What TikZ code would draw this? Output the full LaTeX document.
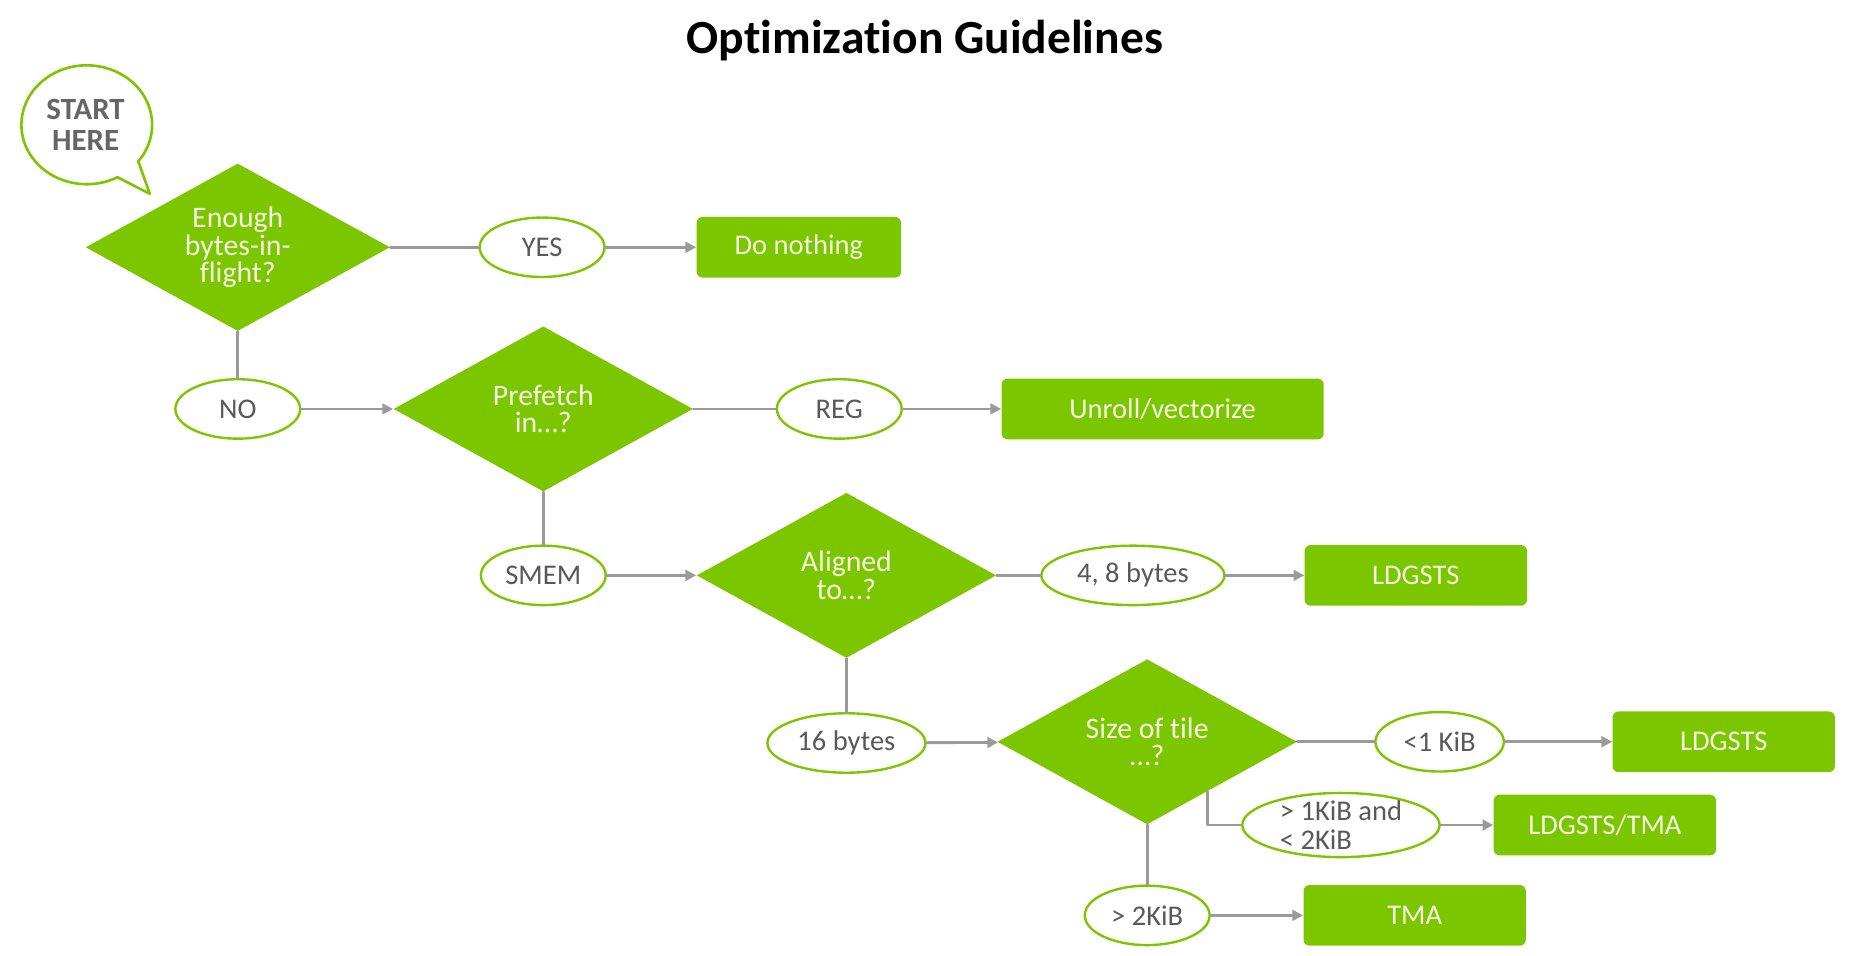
\documentclass[tikz,border=0pt]{standalone}
\usepackage{fontspec}
\setmainfont{Carlito}[Ligatures=CommonOff]
\usetikzlibrary{shapes.geometric,arrows.meta,calc}
\definecolor{nvgreen}{HTML}{7CC600}
\definecolor{linegray}{HTML}{9A9A9A}
\definecolor{labelgray}{HTML}{595959}
\definecolor{startgray}{HTML}{666666}
\definecolor{boxtext}{HTML}{F2F8E4}
\begin{document}
\begin{tikzpicture}[>={Triangle[length=4.5pt,width=4.5pt]},line cap=round,line join=round,x=0.5pt,y=-0.5pt,
		decision/.style={diamond,aspect=1.8,fill=nvgreen,text=boxtext,inner sep=0pt,minimum width=126pt,minimum height=69.5pt,align=center,font=\fontsize{12.5}{11.6}\selectfont},
		answer/.style={ellipse,draw=nvgreen,line width=1pt,fill=white,text=labelgray,inner sep=0pt,minimum width=52.5pt,minimum height=25pt,font=\fontsize{12}{12}\selectfont},
		action/.style={rectangle,rounded corners=2.5pt,fill=nvgreen,text=boxtext,minimum width=93.5pt,minimum height=25.5pt,font=\fontsize{12}{12}\selectfont},
		link/.style={draw=linegray,line width=1.2pt}]
	\useasboundingbox (0,0) rectangle (1568,804);
	\node[font=\fontsize{20}{24}\selectfont\bfseries] (title) at (778,34) {Optimization Guidelines};
	\draw[draw=nvgreen,line width=1.1pt,fill=white] (126,163) -- (98.8,149.1) arc[start angle=62,end angle=398,x radius=55,y radius=50] -- cycle;
	\node[font=\fontsize{13}{13.3}\selectfont\bfseries,text=startgray,align=center] (start) at (72,105) {START\\HERE};
	\node[decision,minimum width=128pt,minimum height=70.5pt] (enough) at (200,208) {Enough\\bytes-in-\\flight?};
	\node[answer] (yes) at (456,208) {YES};
	\node[action,minimum width=86pt] (nothing) at (672,208) {Do nothing};
	\node[answer] (no) at (200,344) {NO};
	\node[decision] (prefetch) at (457,344) {Prefetch\\in…?};
	\node[answer] (reg) at (706,344) {REG};
	\node[action,minimum width=135.5pt] (unroll) at (978,344) {Unroll/vectorize};
	\node[answer] (smem) at (457,484) {SMEM};
	\node[decision] (aligned) at (712,484) {Aligned\\to…?};
	\node[answer,minimum width=77pt] (small) at (953,484) {4, 8 bytes};
	\node[action] (ldgstsa) at (1191,484) {LDGSTS};
	\node[answer,minimum width=66.5pt] (large) at (712,625) {16 bytes};
	\node[decision] (tile) at (965,624) {Size of tile\\…?};
	\node[answer,minimum width=54pt] (below) at (1211,624) {<1 KiB};
	\node[action] (ldgstsb) at (1450,624) {LDGSTS};
	\node[answer,minimum width=83pt,minimum height=27pt,inner ysep=-5pt,align=left] (between) at (1128,694) {> 1KiB and\\< 2KiB};
	\node[action] (mixed) at (1350,694) {LDGSTS/TMA};
	\node[answer] (above) at (965,770) {> 2KiB};
	\node[action] (tma) at (1190,770) {TMA};
	\coordinate (split) at ($(tile.south)!0.4!(tile.east)$);
	\draw[link] (enough) -- (yes);
	\draw[link,->] (yes) -- (nothing);
	\draw[link] (enough) -- (no);
	\draw[link,->] (no) -- (prefetch);
	\draw[link] (prefetch) -- (reg);
	\draw[link,->] (reg) -- (unroll);
	\draw[link] (prefetch) -- (smem);
	\draw[link,->] (smem) -- (aligned);
	\draw[link] (aligned) -- (small);
	\draw[link,->] (small) -- (ldgstsa);
	\draw[link] (aligned) -- (large);
	\draw[link,->] (large) -- (tile);
	\draw[link] (tile) -- (below);
	\draw[link,->] (below) -- (ldgstsb);
	\draw[link] (split) |- (between);
	\draw[link,->] (between) -- (mixed);
	\draw[link] (tile) -- (above);
	\draw[link,->] (above) -- (tma);
\end{tikzpicture}
\end{document}
